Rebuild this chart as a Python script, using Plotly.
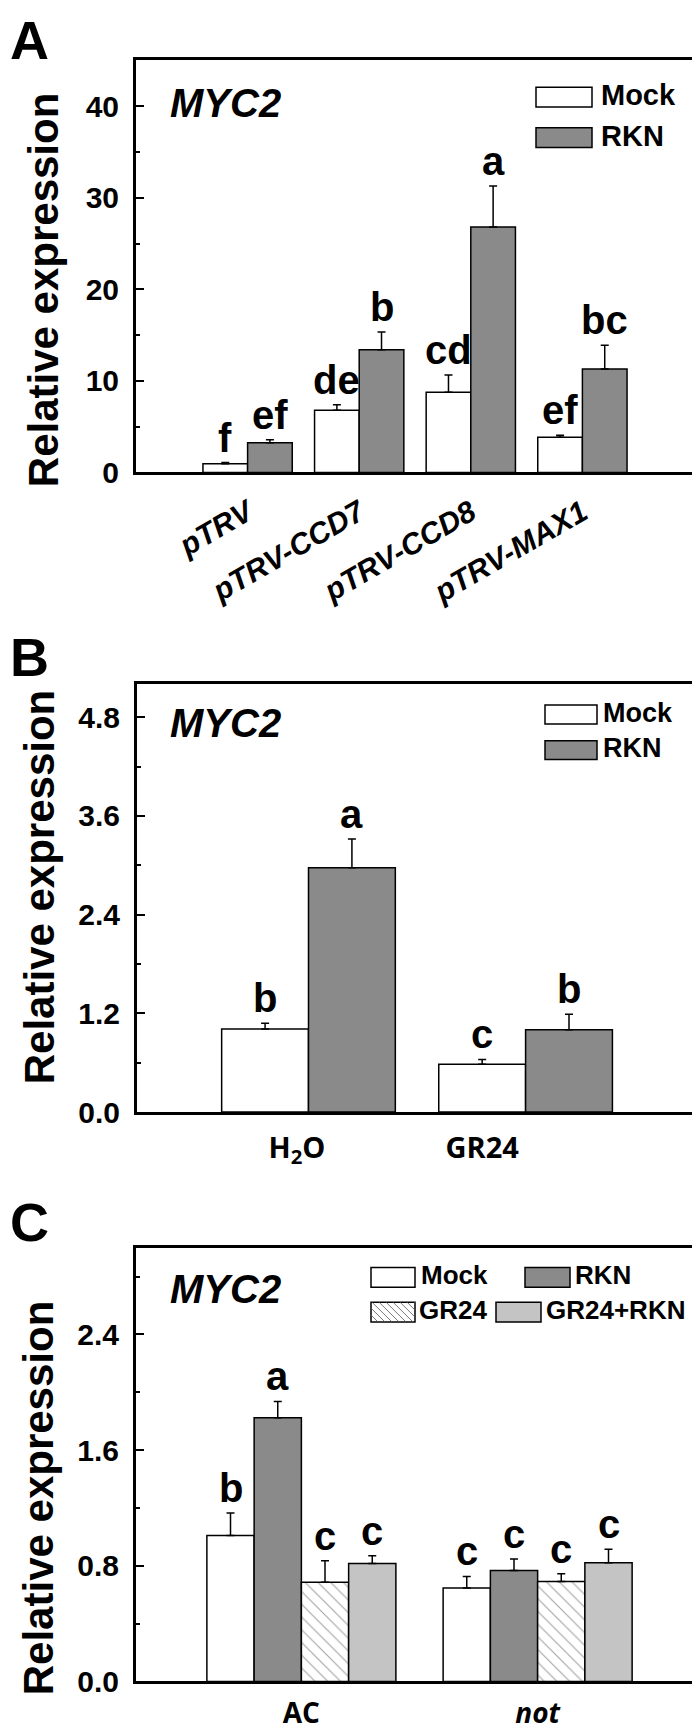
import plotly.graph_objects as go

W, H = 700, 1733

# ---------------- data ----------------
# Panel A
a_tick_labels = ["pTRV", "pTRV-CCD7", "pTRV-CCD8", "pTRV-MAX1"]
a_mock = [0.95, 6.8, 8.75, 3.85]
a_mock_err = [0.12, 0.6, 1.9, 0.22]
a_rkn = [3.23, 13.4, 26.8, 11.3]
a_rkn_err = [0.35, 1.95, 4.5, 2.6]
a_mock_letters = ["f", "de", "cd", "ef"]
a_rkn_letters = ["ef", "b", "a", "bc"]

# Panel B
b_tick_labels = ["H<sub>2</sub>O", "GR24"]
b_mock = [1.01, 0.58]
b_mock_err = [0.07, 0.06]
b_rkn = [2.97, 1.0]
b_rkn_err = [0.35, 0.19]
b_mock_letters = ["b", "c"]
b_rkn_letters = ["a", "b"]

# Panel C
c_tick_labels = ["AC", "<i>not</i>"]
c_series = ["Mock", "RKN", "GR24", "GR24+RKN"]
c_mock = [1.01, 0.646]
c_mock_err = [0.155, 0.08]
c_rkn = [1.824, 0.767]
c_rkn_err = [0.113, 0.08]
c_gr24 = [0.686, 0.691]
c_gr24_err = [0.148, 0.054]
c_gr24rkn = [0.815, 0.821]
c_gr24rkn_err = [0.054, 0.094]
c_letters = [["b", "c"], ["a", "c"], ["c", "c"], ["c", "c"]]

# ---------------- style ----------------
FONT = "Liberation Sans, Arial, sans-serif"
FONT2 = "Open Sans, Liberation Sans, sans-serif"
WHITE = "#ffffff"
DARK = "#8a8a8a"
LIGHT = "#c4c4c4"


def fx(p):
    return p / W


def fy(p):
    return 1 - p / H


fig = go.Figure()
annotations = []
shapes = []


def add_group(xa, ya, positions, values, errors, width, offset, color, letters, pattern=None):
    marker = dict(color=color, line=dict(color="black", width=1.5))
    if pattern:
        marker["pattern"] = pattern
    fig.add_trace(go.Bar(
        x=positions, y=values, width=width, offset=offset,
        marker=marker, showlegend=False,
        error_y=dict(type="data", array=errors, arrayminus=[0] * len(values),
                     symmetric=False, color="black", thickness=1.5, width=4),
        xaxis=xa, yaxis=ya,
    ))
    for p, v, e, t in zip(positions, values, errors, letters):
        annotations.append(dict(
            x=p + offset + width / 2, y=v + e, xref=xa, yref=ya.replace("axis", ""),
            text="<b>%s</b>" % t, showarrow=False, yanchor="bottom", yshift=1,
            font=dict(family=FONT, size=40, color="black"),
        ))


# Panel A bars (positions 1..4)
a_pos = list(range(1, len(a_mock) + 1))
add_group("x", "y", a_pos, a_mock, a_mock_err, 0.4, -0.4, WHITE, a_mock_letters)
add_group("x", "y", a_pos, a_rkn, a_rkn_err, 0.4, 0.0, DARK, a_rkn_letters)

# Panel B
b_pos = list(range(len(b_mock)))
add_group("x2", "y2", b_pos, b_mock, b_mock_err, 0.4, -0.4, WHITE, b_mock_letters)
add_group("x2", "y2", b_pos, b_rkn, b_rkn_err, 0.4, 0.0, DARK, b_rkn_letters)

# Panel C
c_pos = list(range(len(c_mock)))
hatch = dict(shape="\\", size=9, solidity=0.12, fgcolor="#444444", bgcolor="white")
c_vals = [(c_mock, c_mock_err, WHITE, None), (c_rkn, c_rkn_err, DARK, None),
          (c_gr24, c_gr24_err, WHITE, hatch), (c_gr24rkn, c_gr24rkn_err, LIGHT, None)]
for i, (v, e, col, pat) in enumerate(c_vals):
    add_group("x3", "y3", c_pos, v, e, 0.2, -0.4 + 0.2 * i, col, c_letters[i], pat)

# ---------------- axes ----------------
frame = dict(showline=True, linewidth=3, linecolor="black", mirror=True,
             showgrid=False, zeroline=False)
ytick = dict(ticks="inside", ticklen=8, tickwidth=2, tickcolor="black",
             tickfont=dict(family=FONT, size=30, color="black", weight="bold"),
             ticklabelstandoff=8)

fig.update_layout(
    width=W, height=H, margin=dict(l=0, r=0, t=0, b=0),
    paper_bgcolor="white", plot_bgcolor="white", barmode="overlay",
    xaxis=dict(domain=[fx(128), fx(686)], range=[0, 5], anchor="y",
               tickvals=a_pos, ticktext=["<b><i>%s</i></b>" % t for t in a_tick_labels],
               tickangle=-30, ticks="", ticklabelstandoff=8,
               tickfont=dict(family=FONT, size=30, color="black"), **frame),
    yaxis=dict(domain=[fy(469), fy(53)], range=[0, 45], anchor="x",
               tick0=0, dtick=10,
               minor=dict(dtick=5, ticks="inside", ticklen=4, tickwidth=2, tickcolor="black"),
               **ytick, **frame),
    xaxis2=dict(domain=[fx(129), fx(688)], range=[-0.79, 1.785], anchor="y2",
                tickvals=[-0.053, 0.80], ticktext=["<b>%s</b>" % t for t in b_tick_labels],
                ticks="", ticklabelstandoff=8,
                tickfont=dict(family=FONT2, size=29, color="black"), **frame),
    yaxis2=dict(domain=[fy(1115), fy(683)], range=[0, 5.2], anchor="x2",
                tick0=0, dtick=1.2, tickformat=".1f",
                minor=dict(dtick=0.6, ticks="inside", ticklen=4, tickwidth=2, tickcolor="black"),
                **ytick, **frame),
    xaxis3=dict(domain=[fx(128), fx(695)], range=[-0.7, 1.7], anchor="y3",
                tickvals=c_pos, ticktext=["<b>%s</b>" % t for t in c_tick_labels],
                ticks="", ticklabelstandoff=5,
                tickfont=dict(family=FONT2, size=28, color="black"), **frame),
    yaxis3=dict(domain=[fy(1690), fy(1252)], range=[0, 3.0], anchor="x3",
                tick0=0, dtick=0.8, tickformat=".1f",
                minor=dict(dtick=0.4, ticks="inside", ticklen=4, tickwidth=2, tickcolor="black"),
                **ytick, **frame),
)

# ---------------- panel texts ----------------
annotations.append(dict(x=fx(0), y=1, xref="paper", yref="paper",
                        text="<b>A</b>", showarrow=False,
                        xanchor="left", yanchor="top",
                        font=dict(family=FONT, size=54, color="black")))
for letter, ypix in [("B", 655), ("C", 1226)]:
    annotations.append(dict(x=fx(0), y=fy(ypix), xref="paper", yref="paper",
                            text="<b>%s</b>" % letter, showarrow=False,
                            xanchor="left", yanchor="middle",
                            font=dict(family=FONT, size=54, color="black")))

for ypix in [96, 722, 1294]:
    annotations.append(dict(x=fx(160), y=fy(ypix), xref="paper", yref="paper",
                            text="<b><i>MYC2</i></b>", showarrow=False,
                            xanchor="left", yanchor="middle",
                            font=dict(family=FONT, size=40, color="black")))

for xpix, ypix in [(35, 285), (31, 888), (30, 1505)]:
    annotations.append(dict(x=fx(xpix), y=fy(ypix), xref="paper", yref="paper",
                            text="<b>Relative expression</b>", showarrow=False,
                            textangle=-90, xanchor="center", yanchor="middle",
                            font=dict(family=FONT, size=42, color="black")))


# ---------------- hand-drawn legends ----------------
def legend_box(x0, y0, x1, y1, color, label, size, text_x, hatch_lines=False):
    shapes.append(dict(type="rect", xref="paper", yref="paper",
                       x0=fx(x0), x1=fx(x1), y0=fy(y1), y1=fy(y0),
                       fillcolor=color, line=dict(color="black", width=1.5)))
    if hatch_lines:
        h = y1 - y0
        step = 7
        s = x0 - h
        while s < x1:
            ax, ay, bx, by = s, y0, s + h, y1
            if ax < x0:
                ay = y0 + (x0 - ax)
                ax = x0
            if bx > x1:
                by = y1 - (bx - x1)
                bx = x1
            if bx > ax:
                shapes.append(dict(type="line", xref="paper", yref="paper",
                                   x0=fx(ax), y0=fy(ay), x1=fx(bx), y1=fy(by),
                                   line=dict(color="#555555", width=0.8)))
            s += step
    annotations.append(dict(x=fx(text_x), y=fy((y0 + y1) / 2 - 2), xref="paper", yref="paper",
                            text="<b>%s</b>" % label, showarrow=False,
                            xanchor="left", yanchor="middle",
                            font=dict(family=FONT, size=size, color="black")))


legend_box(528, 80, 584, 100, WHITE, "Mock", 29, 591)
legend_box(528, 121, 584, 141, DARK, "RKN", 29, 591)
legend_box(537, 704, 589, 723, WHITE, "Mock", 27, 593)
legend_box(537, 740, 589, 759, DARK, "RKN", 27, 593)
legend_box(363, 1272, 407, 1292, WHITE, "Mock", 26, 411)
legend_box(517, 1272, 562, 1292, DARK, "RKN", 26, 565)
legend_box(363, 1307, 407, 1327, WHITE, "GR24", 26, 409, hatch_lines=True)
legend_box(488, 1307, 533, 1327, LIGHT, "GR24+RKN", 26, 536)

fig.update_layout(annotations=annotations, shapes=shapes)
fig.write_html("out.html")
